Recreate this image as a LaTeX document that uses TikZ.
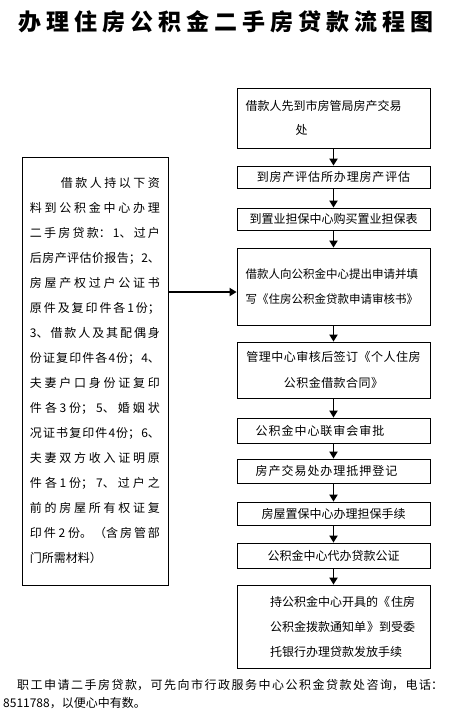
\documentclass[tikz,border=0pt]{standalone}
\usepackage{fontspec}
\setmainfont{Noto Sans CJK SC}
\usepackage{tikz}
\usetikzlibrary{positioning}
\usetikzlibrary{arrows.meta}

% spread CJK text over full lines
\newcommand\cjkspread{\XeTeXlinebreaklocale "zh"\XeTeXlinebreakskip=0pt plus 1fil\relax}
\newcommand\lineend{\hspace*{0pt plus 1fill}\null}

\tikzset{
	box/.style={draw, line width=0.8pt, minimum width=193pt, inner sep=0pt},
	flow/.style={line width=1.8pt, -{Triangle[length=7pt,width=8pt]}},
	title/.style={inner sep=0pt, font=\fontsize{23}{23}\selectfont\bfseries},
}

\begin{document}
\begin{tikzpicture}[x=1pt, y=-1pt]
	\useasboundingbox (0,0) rectangle (450,726);
	
	% ---------------------
	% Title
	\node[title] (title) at (226,22)
		{\makebox[415pt][s]{办\hfil 理\hfil 住\hfil 房\hfil 公\hfil 积\hfil 金\hfil 二\hfil 手\hfil 房\hfil 贷\hfil 款\hfil 流\hfil 程\hfil 图}};
	
	% ---------------------
	% Materials
	\node[box, minimum width=146pt, minimum height=428pt, text width=130pt, align=justify,
		font={\fontsize{12}{25}\selectfont\cjkspread}] (list) at (95,371)
		{\noindent\hspace*{31pt}借款人持以下资\linebreak
		料到公积金中心办理\linebreak
		二手房贷款：1、过户\linebreak
		后房产评估价报告；2、\linebreak
		房屋产权过户公证书\linebreak
		原件及复印件各1份；\linebreak
		3、借款人及其配偶身\linebreak
		份证复印件各4份；4、\linebreak
		夫妻户口身份证复印\linebreak
		件各 3 份；5、婚姻状\linebreak
		况证书复印件4份；6、\linebreak
		夫妻双方收入证明原\linebreak
		件各 1 份；7、过户之\linebreak
		前的房屋所有权证复\linebreak
		印件 2 份。（含房管部\linebreak
		门所需材料）\lineend};
	
	% ---------------------
	% Steps
	\node[box, minimum height=60pt, text width=176pt, align=left,
		font=\fontsize{12}{24}\selectfont\addfontfeature{LetterSpace=11}] (s1) at (333.5,118)
		{借款人先到市房管局房产交易\\ \hspace*{50pt}处};
	\node[box, minimum height=22pt, font=\fontsize{12}{24}\selectfont\addfontfeature{LetterSpace=7}] (s2) at (333.5,177)
		{到房产评估所办理房产评估};
	\node[box, minimum height=22pt, font=\fontsize{12}{24}\selectfont] (s3) at (333.5,219)
		{到置业担保中心购买置业担保表};
	\node[box, minimum height=77pt, text width=176pt, align=left,
		font=\fontsize{11.5}{25}\selectfont] (s4) at (333.5,286.5)
		{借款人向公积金中心提出申请并填\\写《住房公积金贷款申请审核书》};
	\node[box, minimum height=56pt, align=center,
		font=\fontsize{12}{26}\selectfont\addfontfeature{LetterSpace=4}] (s5) at (333.5,370)
		{管理中心审核后签订《个人住房\\公积金借款合同》};
	\node[box, minimum height=25pt, font=\fontsize{12}{24}\selectfont\addfontfeature{LetterSpace=8}] (s6) at (333.5,430.5)
		{公积金中心联审会审批\hspace*{27pt}};
	\node[box, minimum height=24pt, font=\fontsize{12}{24}\selectfont\addfontfeature{LetterSpace=8}] (s7) at (333.5,471)
		{房产交易处办理抵押登记\hspace*{14pt}};
	\node[box, minimum height=23pt, font=\fontsize{12}{24}\selectfont] (s8) at (333.5,513.5)
		{房屋置保中心办理担保手续};
	\node[box, minimum height=25pt, font=\fontsize{12}{24}\selectfont] (s9) at (333.5,555.5)
		{公积金中心代办贷款公证};
	\node[box, minimum height=83pt, text width=190pt, align=left,
		font=\fontsize{12}{25}\selectfont\addfontfeature{LetterSpace=9}] (s10) at (333.5,626.5)
		{\hspace*{31.5pt}持公积金中心开具的《住房\\
		\hspace*{31.5pt}公积金拨款通知单》到受委\\
		\hspace*{31.5pt}托银行办理贷款发放手续};
	
	% ---------------------
	% Arrows
	\foreach \a/\b in {s1/s2, s2/s3, s3/s4, s4/s5, s5/s6, s6/s7, s7/s8, s8/s9, s9/s10}
	\draw[flow] (\a.south) -- (\b.north);
	
	\path (s4.west) +(0,5.5) coordinate (Join);
	\draw[flow] (list.east |- Join) -- (Join);
	
	% ---------------------
	% Note
	\node[anchor=north west, inner sep=0pt, text width=440pt, align=justify,
		font={\fontsize{12}{18}\selectfont\cjkspread}] (note) at (3,679)
		{\noindent\hspace*{14pt}职工申请二手房贷款，可先向市行政服务中心公积金贷款处咨询，电话：\linebreak
		8511788，以便心中有数。\lineend};
	
\end{tikzpicture}
\end{document}
